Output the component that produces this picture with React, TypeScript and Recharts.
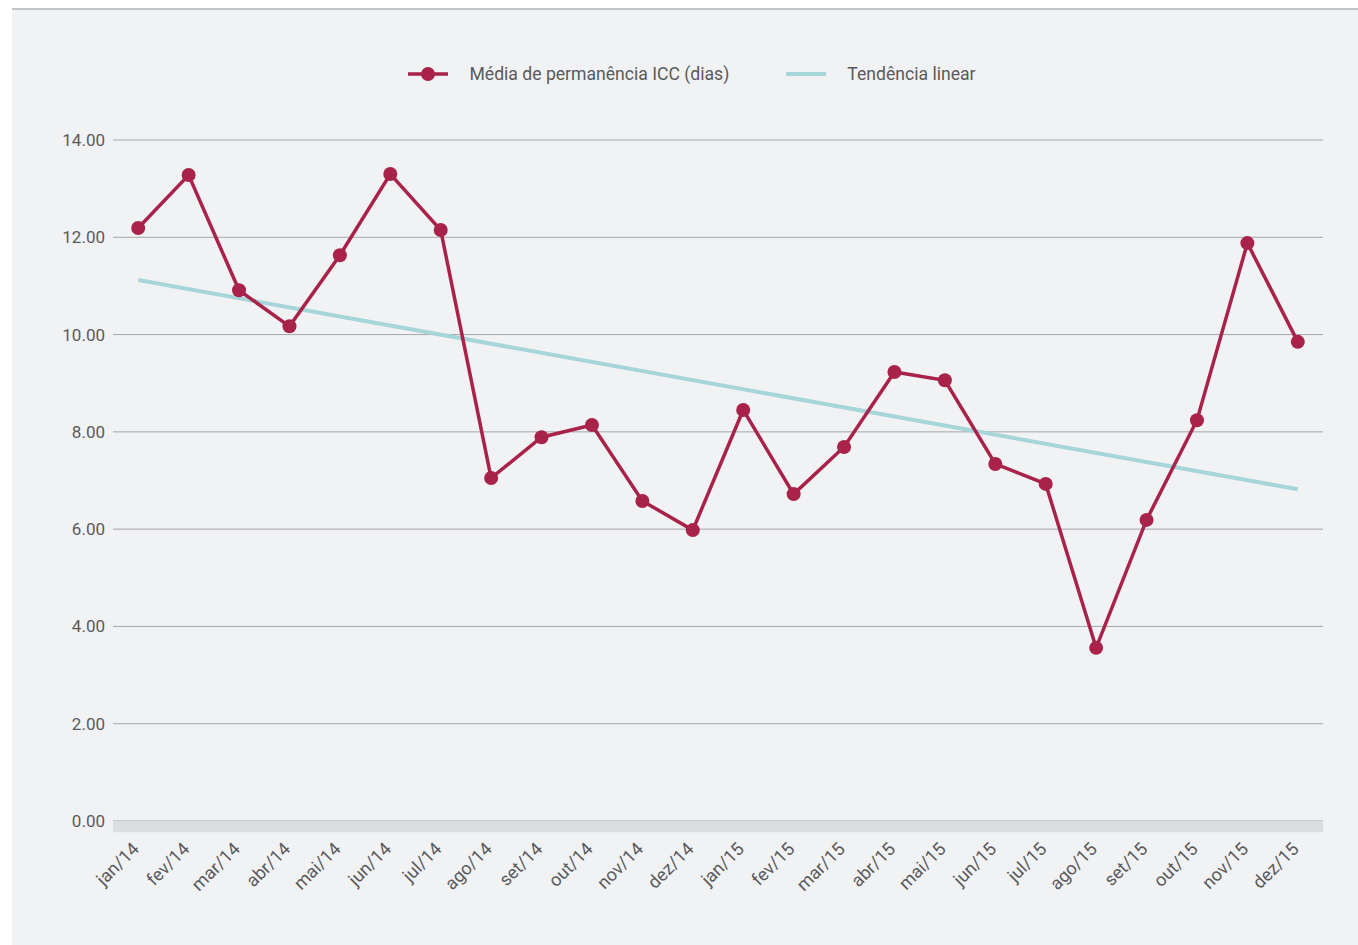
import React from 'react';
import { LineChart, Line, XAxis, YAxis, CartesianGrid, ReferenceArea } from 'recharts';

const months = [
  'jan/14', 'fev/14', 'mar/14', 'abr/14', 'mai/14', 'jun/14', 'jul/14', 'ago/14', 'set/14', 'out/14', 'nov/14', 'dez/14',
  'jan/15', 'fev/15', 'mar/15', 'abr/15', 'mai/15', 'jun/15', 'jul/15', 'ago/15', 'set/15', 'out/15', 'nov/15', 'dez/15',
];

const mediaPermanencia = [
  12.19, 13.28, 10.91, 10.17, 11.63, 13.3, 12.15, 7.05, 7.89, 8.14, 6.58, 5.98,
  8.45, 6.72, 7.69, 9.23, 9.06, 7.34, 6.93, 3.56, 6.19, 8.24, 11.88, 9.85,
];

// trend line endpoints
const trendStart = 11.12;
const trendEnd = 6.82;

const yTicks = [0, 2, 4, 6, 8, 10, 12, 14];

const CRIMSON = '#a8224a';
const TEAL = '#a6d5da';
const TEXT = '#5a5a5c';
const FONT = 'Roboto, "Liberation Sans", sans-serif';

const data = months.map((m, i) => ({
  month: m,
  media: mediaPermanencia[i],
  trend: i === 0 ? trendStart : i === months.length - 1 ? trendEnd : null,
}));

const MonthTick = (props: any) => {
  const { x, y, payload } = props;
  return (
    <g transform={`translate(${x + 2},${y + 21})`}>
      <text
        textAnchor="end"
        transform="rotate(-45)"
        fill={TEXT}
        fontSize={18}
        fontFamily={FONT}
      >
        {payload.value}
      </text>
    </g>
  );
};

export default function App() {
  return (
    <div
      style={{
        position: 'absolute',
        left: 12,
        top: 8,
        width: 1346,
        height: 937,
        background: '#f1f2f4',
        borderTop: '2px solid #c3c4c8',
        fontFamily: FONT,
      }}
    >
      <div
        style={{
          position: 'absolute',
          top: 51,
          left: 14,
          width: 1332,
          display: 'flex',
          justifyContent: 'center',
          alignItems: 'center',
          fontSize: 17.6,
          color: TEXT,
          height: 26,
        }}
      >
        <svg width={40} height={14} style={{ marginRight: 21 }}>
          <line x1={0} y1={7} x2={40} y2={7} stroke={CRIMSON} strokeWidth={3.5} />
          <circle cx={20} cy={7} r={7} fill={CRIMSON} />
        </svg>
        <span style={{ marginRight: 57 }}>Média de permanência ICC (dias)</span>
        <svg width={40} height={14} style={{ marginRight: 21 }}>
          <line x1={0} y1={7} x2={40} y2={7} stroke={TEAL} strokeWidth={4} />
        </svg>
        <span>Tendência linear</span>
      </div>
      <div style={{ position: 'absolute', left: 0, top: 0 }}>
        <LineChart
          width={1346}
          height={935}
          data={data}
          margin={{ top: 130, right: 35, left: 0, bottom: 0 }}
        >
          <CartesianGrid vertical={false} stroke="#a5a6aa" />
          <ReferenceArea y1={0} y2={-0.23} ifOverflow="visible" fill="#dcdde0" fillOpacity={1} stroke="none" />
          <XAxis
            dataKey="month"
            scale="band"
            axisLine={false}
            tickLine={false}
            interval={0}
            height={124}
            tick={<MonthTick />}
          />
          <YAxis
            domain={[0, 14]}
            ticks={yTicks}
            tickFormatter={(v: number) => v.toFixed(2)}
            axisLine={false}
            tickLine={false}
            width={101}
            tick={{ fill: TEXT, fontSize: 17, fontFamily: FONT }}
          />
          <Line
            dataKey="trend"
            stroke={TEAL}
            strokeWidth={4}
            dot={false}
            activeDot={false}
            connectNulls
            isAnimationActive={false}
          />
          <Line
            dataKey="media"
            stroke={CRIMSON}
            strokeWidth={3.5}
            dot={{ r: 7, fill: CRIMSON, stroke: 'none' }}
            activeDot={false}
            isAnimationActive={false}
          />
        </LineChart>
      </div>
    </div>
  );
}
